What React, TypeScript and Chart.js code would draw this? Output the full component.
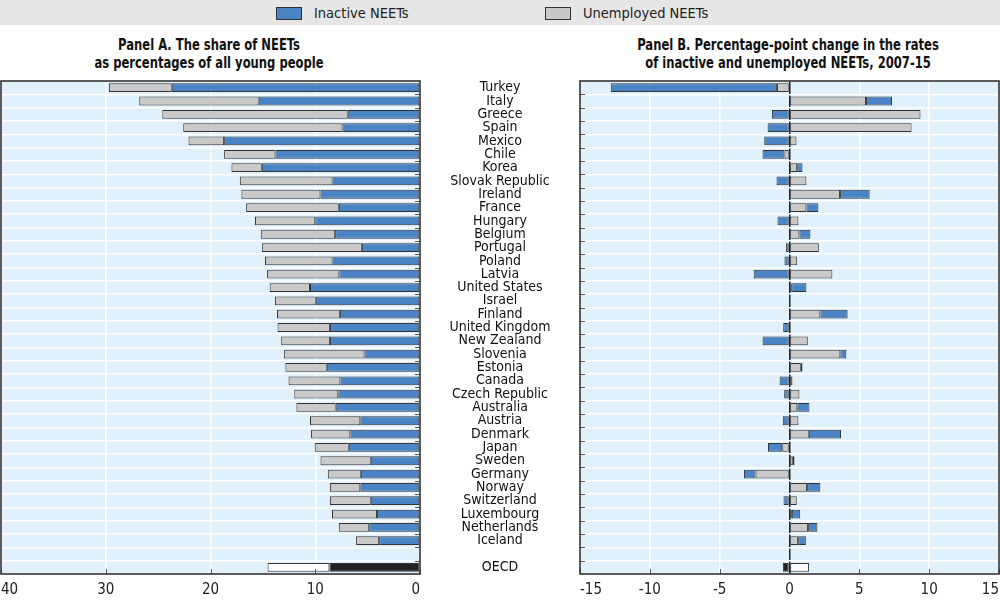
import React, { useEffect, useRef } from "react";
import { Chart, registerables } from "chart.js";
Chart.register(...registerables);

const FONT = "'Liberation Sans Narrow', 'Arial Narrow', 'DejaVu Sans Condensed', 'Roboto', sans-serif";

const countries = [
  "Turkey", "Italy", "Greece", "Spain", "Mexico", "Chile", "Korea", "Slovak Republic", "Ireland", "France",
  "Hungary", "Belgium", "Portugal", "Poland", "Latvia", "United States", "Israel", "Finland", "United Kingdom", "New Zealand",
  "Slovenia", "Estonia", "Canada", "Czech Republic", "Australia", "Austria", "Denmark", "Japan", "Sweden", "Germany",
  "Norway", "Switzerland", "Luxembourg", "Netherlands", "Iceland",
];
const categories = [...countries, "", "OECD"];

// Panel A: share of NEETs (% of all young people)
const shareInactive = [
  23.7, 15.4, 6.9, 7.4, 18.7, 13.8, 15.1, 8.35, 9.5, 7.75,
  10.0, 8.1, 5.55, 8.35, 7.7, 10.5, 9.95, 7.65, 8.6, 8.6,
  5.3, 8.9, 7.6, 7.8, 8.05, 5.7, 6.65, 6.8, 4.7, 5.65,
  5.7, 4.7, 4.1, 4.85, 3.9, null, 8.65,
];
const shareUnemployed = [
  6.0, 11.4, 17.7, 15.2, 3.4, 4.9, 2.9, 8.85, 7.55, 8.85,
  5.75, 7.1, 9.55, 6.45, 6.9, 3.85, 3.9, 6.0, 5.0, 4.65,
  7.7, 3.95, 4.95, 4.2, 3.75, 4.8, 3.75, 3.25, 4.8, 3.15,
  2.9, 3.9, 4.3, 2.9, 2.2, null, 5.9,
];

// Panel B: percentage-point change 2007-15
const changeInactive = [
  -11.9, 1.86, -1.26, -1.57, -1.81, -1.57, 0.38, -0.93, 2.12, 0.86,
  -0.86, 0.79, -0.26, -0.36, -2.57, 1.09, null, 1.95, -0.45, -1.93,
  0.43, 0.12, -0.71, -0.38, 0.87, -0.48, 2.31, -1.02, 0.12, -0.83,
  0.95, -0.43, 0.6, 0.67, 0.55, null, -0.48,
];
const changeUnemployed = [
  -0.9, 5.48, 9.38, 8.74, 0.5, -0.36, 0.55, 1.21, 3.62, 1.21,
  0.64, 0.71, 2.1, 0.55, 3.07, 0.12, null, 2.21, 0.05, 1.31,
  3.64, 0.81, 0.21, 0.71, 0.56, 0.64, 1.38, -0.52, 0.24, -2.43,
  1.26, 0.52, 0.17, 1.33, 0.62, null, 1.4,
];

const panelATicks = [0, 10, 20, 30, 40];
const panelBTicks = [-15, -10, -5, 0, 5, 10, 15];

const BLUE = "#4a84c5";
const GREY = "#c9c9c9";
const BG = "#e1f1fb";
const EDGE = "#333333";
const OECD_DARK = "#222222";
const OECD_LIGHT = "#ffffff";

const inactiveColors = categories.map((c) => (c === "OECD" ? OECD_DARK : BLUE));
const unemployedColors = categories.map((c) => (c === "OECD" ? OECD_LIGHT : GREY));

const framePlugin = (tickSide: "left" | "right") => ({
  id: "frame" + tickSide,
  beforeDraw(chart: any) {
    const { ctx, chartArea: a } = chart;
    ctx.save();
    ctx.fillStyle = BG;
    ctx.fillRect(a.left, a.top, a.right - a.left, a.bottom - a.top);
    ctx.restore();
  },
  afterDraw(chart: any) {
    const { ctx, chartArea: a } = chart;
    const y = chart.scales.y;
    const x = chart.scales.x;
    ctx.save();
    ctx.strokeStyle = "#555";
    ctx.lineWidth = 1;
    const n = categories.length;
    const step = y.getPixelForValue(1) - y.getPixelForValue(0);
    for (let i = 1; i < n; i++) {
      const py = Math.round(y.getPixelForValue(i) - step / 2) + 0.5;
      ctx.beginPath();
      if (tickSide === "right") {
        ctx.moveTo(a.right - 5, py);
        ctx.lineTo(a.right, py);
      } else {
        ctx.moveTo(a.left, py);
        ctx.lineTo(a.left + 5, py);
      }
      ctx.stroke();
    }
    x.ticks.forEach((t: any) => {
      const px = Math.round(x.getPixelForValue(t.value)) + 0.5;
      ctx.beginPath();
      ctx.moveTo(px, a.bottom - 5);
      ctx.lineTo(px, a.bottom);
      ctx.stroke();
    });
    ctx.strokeStyle = EDGE;
    ctx.lineWidth = 1.6;
    ctx.strokeRect(a.left, a.top, a.right - a.left, a.bottom - a.top);
    ctx.restore();
  },
});

function measureWidest(labels: string[], font: string) {
  const c = document.createElement("canvas");
  const ctx = c.getContext("2d")!;
  ctx.font = font;
  return Math.max(...labels.map((l) => ctx.measureText(l).width));
}

export default function App() {
  const refA = useRef<HTMLCanvasElement>(null);
  const refB = useRef<HTMLCanvasElement>(null);

  useEffect(() => {
    Chart.defaults.font.family = FONT;
    const labelFontSize = 14;
    const widest = measureWidest(categories, `${labelFontSize}px ${FONT}`);
    const yPad = Math.max(2, 80 - widest / 2);

    const barCommon = {
      borderColor: EDGE,
      borderWidth: 1,
      borderSkipped: false,
      categoryPercentage: 1,
      barPercentage: 0.66,
    };

    const chartA = new Chart(refA.current!, {
      type: "bar",
      data: {
        labels: categories,
        datasets: [
          { label: "Inactive NEETs", data: shareInactive, backgroundColor: inactiveColors, ...barCommon },
          { label: "Unemployed NEETs", data: shareUnemployed, backgroundColor: unemployedColors, ...barCommon },
        ],
      },
      options: {
        indexAxis: "y",
        animation: false,
        responsive: false,
        layout: { padding: { left: 1, top: 81, right: 0, bottom: 0 } },
        plugins: { legend: { display: false }, tooltip: { enabled: false } },
        scales: {
          x: {
            stacked: true,
            reverse: true,
            min: 0,
            max: 40,
            afterBuildTicks: (s: any) => { s.ticks = panelATicks.map((v) => ({ value: v })); },
            ticks: { color: "#222", font: { size: 15 }, padding: 7, align: "inner", maxRotation: 0 },
            grid: { color: "#ffffff", lineWidth: 1.5, drawTicks: false },
            border: { display: false },
            afterFit: (s: any) => { s.height = 28; s.paddingLeft = 0; s.paddingRight = 0; },
          },
          y: {
            stacked: true,
            position: "right",
            ticks: { crossAlign: "center", padding: yPad, autoSkip: false, color: "#111", font: { size: labelFontSize } },
            grid: { color: "#ffffff", lineWidth: 1.5, drawTicks: false, offset: true },
            border: { display: false },
            afterFit: (s: any) => { s.width = 160; s.paddingTop = 0; s.paddingBottom = 0; },
          },
        },
      } as any,
      plugins: [framePlugin("right")],
    });

    const chartB = new Chart(refB.current!, {
      type: "bar",
      data: {
        labels: categories,
        datasets: [
          { label: "Unemployed NEETs", data: changeUnemployed, backgroundColor: unemployedColors, ...barCommon },
          { label: "Inactive NEETs", data: changeInactive, backgroundColor: inactiveColors, ...barCommon },
        ],
      },
      options: {
        indexAxis: "y",
        animation: false,
        responsive: false,
        layout: { padding: { left: 2, top: 81, right: 1, bottom: 0 } },
        plugins: { legend: { display: false }, tooltip: { enabled: false } },
        scales: {
          x: {
            stacked: true,
            min: -15,
            max: 15,
            afterBuildTicks: (s: any) => { s.ticks = panelBTicks.map((v) => ({ value: v })); },
            ticks: { color: "#222", font: { size: 15 }, padding: 7, align: "inner", maxRotation: 0 },
            grid: {
              color: (c: any) => (c.tick && c.tick.value === 0 ? "#222222" : "#ffffff"),
              lineWidth: 1.5,
              drawTicks: false,
            },
            border: { display: false },
            afterFit: (s: any) => { s.height = 28; s.paddingLeft = 0; s.paddingRight = 0; },
          },
          y: {
            stacked: true,
            position: "left",
            ticks: { display: false },
            grid: { color: "#ffffff", lineWidth: 1.5, drawTicks: false, offset: true },
            border: { display: false },
            afterFit: (s: any) => { s.width = 0; s.paddingTop = 0; s.paddingBottom = 0; },
          },
        },
      } as any,
      plugins: [framePlugin("left")],
    });

    return () => {
      chartA.destroy();
      chartB.destroy();
    };
  }, []);

  const titleStyle: React.CSSProperties = {
    position: "absolute",
    top: 36,
    width: 420,
    textAlign: "center",
    fontFamily: FONT,
    fontWeight: "bold",
    fontSize: 15.5,
    lineHeight: "18px",
    color: "#111",
    transform: "scaleX(0.83)",
    transformOrigin: "50% 50%",
  };

  return (
    <div style={{ position: "fixed", left: 0, top: 0, width: 1000, height: 602, background: "#fff", overflow: "hidden", fontFamily: FONT }}>
      <div style={{ position: "absolute", left: 0, top: 0, width: 1000, height: 25, background: "#e6e6e6" }} />
      <div style={{ position: "absolute", left: 276, top: 7, width: 24, height: 11, background: BLUE, border: "1px solid #333" }} />
      <div style={{ position: "absolute", left: 314, top: 3, fontSize: 14.5, lineHeight: "20px", color: "#222" }}>Inactive NEETs</div>
      <div style={{ position: "absolute", left: 545, top: 7, width: 24, height: 11, background: GREY, border: "1px solid #333" }} />
      <div style={{ position: "absolute", left: 583, top: 3, fontSize: 14.5, lineHeight: "20px", color: "#222" }}>Unemployed NEETs</div>
      <div style={{ ...titleStyle, left: 209 - 210 }}>
        Panel A. The share of NEETs<br />as percentages of all young people
      </div>
      <div style={{ ...titleStyle, left: 788 - 210 }}>
        Panel B. Percentage-point change in the rates<br />of inactive and unemployed NEETs, 2007-15
      </div>
      <canvas ref={refA} width={580} height={602} style={{ position: "absolute", left: 0, top: 0 }} />
      <canvas ref={refB} width={422} height={602} style={{ position: "absolute", left: 578, top: 0 }} />
    </div>
  );
}
